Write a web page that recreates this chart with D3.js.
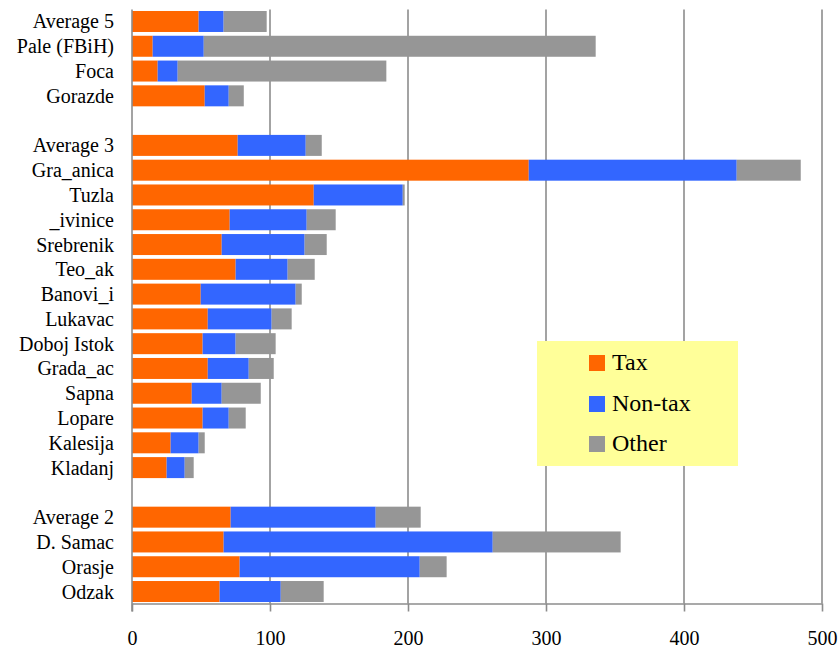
<!DOCTYPE html>
<html>
<head>
<meta charset="utf-8">
<script src="https://cdn.jsdelivr.net/npm/d3@7"></script>
<style>
  html, body { margin: 0; padding: 0; background: #fff; }
  svg { display: block; }
</style>
</head>
<body>
<svg id="chart" width="838" height="650"></svg>
<script>
// Municipal revenue per capita, split by source. null marks a blank row between groups.
const categories = [
  "Average 5", "Pale (FBiH)", "Foca", "Gorazde",
  null,
  "Average 3", "Gra_anica", "Tuzla", "_ivinice", "Srebrenik", "Teo_ak", "Banovi_i",
  "Lukavac", "Doboj Istok", "Grada_ac", "Sapna", "Lopare", "Kalesija", "Kladanj",
  null,
  "Average 2", "D. Samac", "Orasje", "Odzak"
];
const tax    = [48.3, 15.0, 18.6, 52.7, null, 76.6, 287.5, 131.7, 70.8, 65.0, 75.1, 49.8, 54.9, 51.2, 54.9, 43.3, 51.2, 28.0, 25.1, null, 71.5, 66.4, 78.0, 63.5];
const nonTax = [18.1, 37.0, 14.5, 17.4, null, 49.3, 150.7, 64.5, 55.8, 60.1, 37.7, 68.8, 46.3, 23.9, 29.7, 21.7, 18.9, 20.3, 13.1, null, 105.1, 195.0, 130.5, 44.3];
const other  = [31.2, 284.0, 151.2, 10.9, null, 11.6, 46.4, 1.4, 21.0, 16.0, 19.6, 4.4, 14.5, 29.0, 18.1, 28.3, 12.3, 4.4, 6.5, null, 32.6, 92.7, 19.5, 31.1];
const seriesNames = ["Tax", "Non-tax", "Other"];
const seriesColors = ["#FF6600", "#3366FF", "#969696"];
const xTicks = [0, 100, 200, 300, 400, 500];

const FONT = "'Liberation Serif', 'Times New Roman', serif";

const rows = categories.map((c, i) => ({
  key: "r" + i, label: c,
  Tax: tax[i], "Non-tax": nonTax[i], Other: other[i]
}));
const dataRows = rows.filter(r => r.label !== null);

const svg = d3.select("#chart");
const plotLeft = 132, plotRight = 822, plotTop = 9.5, plotBottom = 603.5;

const x = d3.scaleLinear().domain([0, 500]).range([plotLeft, plotRight]);
const y = d3.scaleBand().domain(rows.map(r => r.key)).range([plotTop, plotBottom])
  .paddingInner(0.153).paddingOuter(0.06);

// vertical gridlines
svg.append("g").selectAll("line").data(xTicks.filter(t => t > 0)).join("line")
  .attr("x1", d => x(d)).attr("x2", d => x(d))
  .attr("y1", plotTop).attr("y2", plotBottom)
  .attr("stroke", "#8c8c8c").attr("stroke-width", 1.6);

// stacked bars
const stack = d3.stack().keys(seriesNames);
const layers = stack(dataRows);
svg.append("g").selectAll("g").data(layers).join("g")
  .attr("fill", (d, i) => seriesColors[i])
  .selectAll("rect").data(d => d).join("rect")
  .attr("x", d => x(d[0]))
  .attr("width", d => x(d[1]) - x(d[0]))
  .attr("y", d => y(d.data.key))
  .attr("height", y.bandwidth());

// category labels
svg.append("g").selectAll("text").data(dataRows).join("text")
  .attr("x", 114)
  .attr("y", d => y(d.key) + y.bandwidth() / 2)
  .attr("dominant-baseline", "central")
  .attr("text-anchor", "end")
  .style("font-family", FONT)
  .style("font-size", "20px")
  .attr("fill", "#000")
  .text(d => d.label);

// bottom axis
const xAxis = svg.append("g")
  .attr("transform", `translate(0,${plotBottom})`)
  .call(d3.axisBottom(x).tickValues(xTicks).tickSize(8).tickSizeOuter(0).tickFormat(d3.format("d")));
xAxis.select(".domain").attr("stroke", "#8c8c8c").attr("stroke-width", 1.6);
xAxis.selectAll(".tick line").attr("stroke", "#8c8c8c").attr("stroke-width", 1.6);
xAxis.selectAll(".tick text")
  .attr("y", 41.5).attr("dy", 0)
  .style("font-family", FONT)
  .style("font-size", "20px")
  .attr("fill", "#000");

// left axis line
svg.append("line")
  .attr("x1", x(0)).attr("x2", x(0))
  .attr("y1", plotTop).attr("y2", plotBottom + 8)
  .attr("stroke", "#8c8c8c").attr("stroke-width", 1.6);

// legend
const legend = svg.append("g");
legend.append("rect")
  .attr("x", 537).attr("y", 341).attr("width", 201).attr("height", 125)
  .attr("fill", "#FFFF99");
const items = legend.selectAll("g.item").data(seriesNames).join("g")
  .attr("class", "item")
  .attr("transform", (d, i) => `translate(589,${[355, 396, 436][i]})`);
items.append("rect").attr("width", 16).attr("height", 16)
  .attr("fill", (d, i) => seriesColors[i]);
items.append("text").attr("x", 23).attr("y", 14.5)
  .style("font-family", FONT)
  .style("font-size", "24px")
  .attr("fill", "#000")
  .text(d => d);
</script>
</body>
</html>
